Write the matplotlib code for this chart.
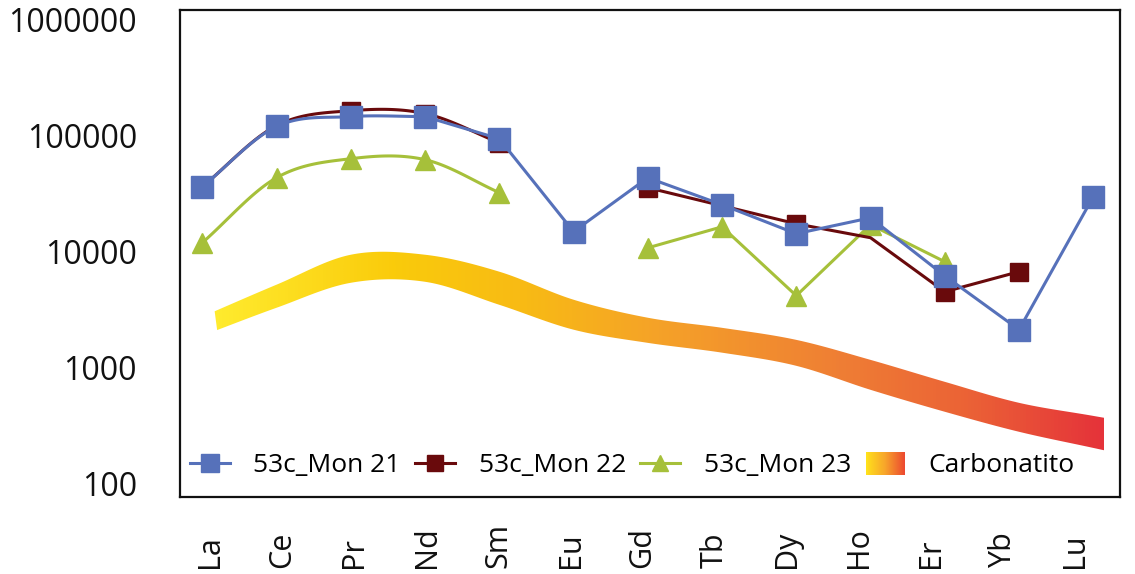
import numpy as np
import matplotlib
matplotlib.use("Agg")
import matplotlib.pyplot as plt
from matplotlib.colors import LinearSegmentedColormap
from matplotlib.lines import Line2D
from matplotlib.patches import Rectangle, PathPatch
from matplotlib.path import Path
from matplotlib.legend_handler import HandlerBase
from matplotlib.ticker import NullLocator

plt.rcParams['font.family'] = ['Open Sans', 'DejaVu Sans']

# REE normalised values
elements = ['La', 'Ce', 'Pr', 'Nd', 'Sm', 'Eu', 'Gd', 'Tb', 'Dy', 'Ho', 'Er', 'Yb', 'Lu']
mon21 = [36300, 120000, 146000, 146000, 94000, 14900, 43400, 25400, 14300, 19600, 6200, 2130, 29800]
mon22 = [36300, 122000, 164000, 155000, 87000, np.nan, 35600, 24900, 17400, 13200, 4520, 6730, np.nan]
mon23 = [11950, 43400, 63300, 62100, 32300, np.nan, 10800, 16400, 4180, 17100, 8200, np.nan, np.nan]

# carbonatite field, upper and lower limits
carb_upper = [2760, 5200, 9420, 9420, 6730, 3860, 2700, 2210, 1740, 1170, 757, 499, 385]
carb_lower = [1890, 3290, 5400, 5510, 3490, 2130, 1640, 1350, 1040, 646, 418, 281, 204]

blue = '#5671BA'
dark = '#690A0C'
green = '#A6C03A'
carb_cmap = LinearSegmentedColormap.from_list('carb', [
    (0.0, '#FFEB2E'), (0.2, '#FACB0B'), (0.35, '#F8BA15'), (0.5, '#F5A228'),
    (0.7, '#EF7F34'), (0.85, '#EB6236'), (1.0, '#E5333A')])
legend_cmap = LinearSegmentedColormap.from_list('carb_leg', ['#FFE21A', '#F7A52A', '#EC4A30'])


def catmull(xs, ys, n=30):
    # Catmull-Rom curve through the points, done on log10 of y
    p = np.column_stack([xs, np.log10(ys)]).astype(float)
    p = np.vstack([2 * p[0] - p[1], p, 2 * p[-1] - p[-2]])
    t = np.linspace(0, 1, n, endpoint=False)[:, None]
    out = []
    for i in range(1, len(p) - 2):
        p0, p1, p2, p3 = p[i - 1], p[i], p[i + 1], p[i + 2]
        seg = 0.5 * (2 * p1 + (-p0 + p2) * t + (2 * p0 - 5 * p1 + 4 * p2 - p3) * t ** 2
                     + (-p0 + 3 * p1 - 3 * p2 + p3) * t ** 3)
        out.append(seg)
    out.append(p[-2][None, :])
    out = np.vstack(out)
    return out[:, 0], 10 ** out[:, 1]


class CarbKey:
    pass


class GradientHandler(HandlerBase):
    def create_artists(self, legend, orig_handle, xdescent, ydescent,
                       width, height, fontsize, trans):
        n = 40
        h = height * 1.25
        y0 = -ydescent - (h - height) / 2
        arts = []
        for i in range(n):
            r = Rectangle((-xdescent + i * width / n, y0), width / n * 1.05, h,
                          facecolor=legend_cmap(i / (n - 1)), edgecolor='none',
                          transform=trans)
            arts.append(r)
        return arts


fig = plt.figure(figsize=(11.35, 5.74), dpi=100)
ax = fig.add_axes([0.1586, 0.1341, 0.8282, 0.8485])
ax.set_yscale('log')

x = np.arange(len(elements))

# carbonatite band with horizontal colour gradient
ux, uy = catmull(x, carb_upper)
lx, ly = catmull(x, carb_lower)
x0, x1 = 0.15, 12.15


def trim(cx, cy):
    keep = cx >= x0
    cx, cy = cx[keep], cy[keep]
    slope = (np.log10(cy[-1]) - np.log10(cy[-2])) / (cx[-1] - cx[-2])
    ext = 10 ** (np.log10(cy[-1]) + slope * (x1 - cx[-1]))
    return np.append(cx, x1), np.append(cy, ext)


ux, uy = trim(ux, uy)
lx, ly = trim(lx, ly)
verts = np.vstack([np.column_stack([ux, uy]), np.column_stack([lx[::-1], ly[::-1]])])
band = PathPatch(Path(verts, closed=True), facecolor='none', edgecolor='none',
                 transform=ax.transData)
ax.add_patch(band)
grad = np.linspace(0, 1, 256)[None, :]
img = ax.imshow(grad, cmap=carb_cmap, aspect='auto', interpolation='bilinear',
                extent=[x0, x1, min(ly) * 0.9, max(uy) * 1.1], zorder=1)
img.set_clip_path(band)

lw = 2.2

# 53c_Mon 23
sx, sy = catmull(x[:5], mon23[:5])
ax.plot(sx, sy, color=green, lw=lw, zorder=2)
ax.plot(x[6:11], mon23[6:11], color=green, lw=lw, zorder=2)
ax.plot(x, mon23, ls='none', marker='^', ms=15, color=green, mec=green, zorder=2)

# 53c_Mon 22
sx, sy = catmull(x[:5], mon22[:5])
ax.plot(sx, sy, color=dark, lw=lw, zorder=3)
ax.plot(x[6:12], mon22[6:12], color=dark, lw=lw, zorder=3)
m22 = [i for i in range(len(x)) if i != 9]
ax.plot(x[m22], np.array(mon22)[m22], ls='none', marker='s', ms=13, color=dark,
        mec=dark, zorder=3)

# 53c_Mon 21
sx, sy = catmull(x[:4], mon21[:4])
ax.plot(sx, sy, color=blue, lw=lw, zorder=4)
ax.plot(x[3:], mon21[3:], color=blue, lw=lw, zorder=4)
ax.plot(x, mon21, ls='none', marker='s', ms=15.5, color=blue, mec=blue, zorder=4)

ax.set_xlim(-0.3, 12.36)
ax.set_ylim(77, 1.21e6)

ax.set_yticks([100, 1000, 10000, 100000, 1000000])
ax.set_yticklabels(['100', '1000', '10000', '100000', '1000000'])
ax.yaxis.set_minor_locator(NullLocator())
ax.tick_params(axis='y', length=0, pad=31, labelsize=23, colors='#111111')
ax.set_xticks([])
# element names sit on a slightly tighter pitch than the points
for i, el in enumerate(elements):
    ax.text(0.11 + 0.97 * i, -0.146, el, transform=ax.get_xaxis_transform(), rotation=90,
            ha='center', va='bottom', fontsize=22, color='#111111')

for s in ax.spines.values():
    s.set_linewidth(1.6)
    s.set_color('#111111')

handles = [
    Line2D([], [], color=blue, lw=lw, marker='s', ms=13),
    Line2D([], [], color=dark, lw=lw, marker='s', ms=11),
    Line2D([], [], color=green, lw=lw, marker='^', ms=12),
    CarbKey(),
]
labels = ['53c_Mon 21', '53c_Mon 22', '53c_Mon 23', 'Carbonatito']
ax.legend(handles, labels, handler_map={CarbKey: GradientHandler()}, ncol=4,
          loc='center left', bbox_to_anchor=(0.005, 0.064), frameon=False,
          fontsize=19, handlelength=1.5, handletextpad=0.9, columnspacing=0.55,
          borderpad=0.2, borderaxespad=0, numpoints=1)

fig.savefig('out.png', dpi=100)
